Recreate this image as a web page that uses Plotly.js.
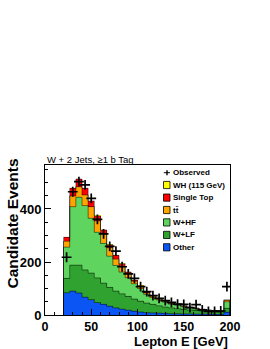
<!DOCTYPE html>
<html><head><meta charset="utf-8">
<script src="https://cdn.plot.ly/plotly-3.0.1.min.js"></script>
<style>html,body{margin:0;padding:0;background:#fff}#chart{width:270px;height:349px}</style>
</head><body><div id="chart"></div>
<script>
// Binning: 27 bins of 20/3 GeV starting at 20 GeV (last bin is overflow)
const binStart = 20;
const binWidth = 20 / 3;

// Per-process contributions (events per bin), stacked bottom to top
const other     = [84, 90, 83, 67, 58, 47, 40, 33, 27, 22, 18, 14, 11, 9, 8, 7, 6, 5, 5, 4, 4, 3, 3, 3, 2, 2, 10];
const wlf       = [54, 98, 105, 103, 100, 93, 80, 71, 63, 58, 52, 46, 41, 36, 32, 28, 24, 22, 19, 17, 15, 14, 12, 10, 10, 9, 15];
const whf       = [118, 221, 256, 243, 207, 172, 150, 118, 97, 82, 71, 58, 48, 33, 26, 22, 19, 14, 13, 10, 8, 6, 4, 4, 3, 3, 25];
const ttbar     = [22, 40, 40, 40, 44, 43, 35, 32, 24, 20, 16, 9, 8, 6, 6, 5, 4, 3, 3, 3, 2, 2, 2, 1, 1, 1, 5];
const singleTop = [15, 29, 29, 25, 21, 19, 16, 12, 14, 12, 5, 4, 3, 2, 2, 1, 1, 1, 1, 1, 1, 1, 1, 1, 1, 0.5, 2];
const wh        = [1, 2, 2, 2, 2, 1.5, 1.5, 1, 1, 1, 1, 0.5, 0.5, 0.5, 0.5, 0.3, 0.3, 0.3, 0.2, 0.2, 0.2, 0.2, 0.1, 0.1, 0.1, 0.1, 0.5];
const observed  = [218, 465, 503, 491, 440, 361, 306, 259, 241, 182, 155, 138, 107, 88, 73, 63, 54, 48, 41, 40, 28, 39, 19, 14, 14, 15, 107];

const xTickVals = [0, 50, 100, 150, 200];
const yTickVals = [0, 200, 400];

const processNames  = ['Other', 'W+LF', 'W+HF', 't\u0074\u0304', 'Single Top', 'WH (115 GeV)'];
const processData   = [other, wlf, whf, ttbar, singleTop, wh];
const processColors = ['#0b55f5', '#2fa22f', '#5fd45f', '#ffa500', '#ff0000', '#ffff00'];

const FONT = 'Liberation Sans, Arial, Helvetica, sans-serif';

const nBins = observed.length;
const centers = observed.map((_, i) => binStart + (i + 0.5) * binWidth);
const edges = Array.from({length: nBins + 1}, (_, i) => binStart + i * binWidth);

const traces = [];
processData.forEach((vals, k) => {
  traces.push({
    type: 'bar', x: centers, y: vals, width: binWidth,
    marker: {color: processColors[k], line: {width: 0}},
    showlegend: false, hoverinfo: 'skip'
  });
});
let cum = new Array(nBins).fill(0);
processData.forEach((vals, k) => {
  cum = cum.map((c, i) => c + vals[i]);
  if (k === processData.length - 1) return;
  const xs = [edges[0], edges[0]];
  const ys = [0, cum[0]];
  for (let i = 1; i < nBins; i++) { xs.push(edges[i]); ys.push(cum[i]); }
  xs.push(edges[nBins]); ys.push(cum[nBins - 1]);
  xs.push(edges[nBins]); ys.push(0);
  traces.push({
    type: 'scatter', mode: 'lines', x: xs, y: ys,
    line: {shape: 'hv', color: 'rgba(0,0,0,0.6)', width: 0.8},
    showlegend: false, hoverinfo: 'skip'
  });
});
traces.push({
  type: 'scatter', mode: 'markers', x: centers, y: observed,
  marker: {symbol: 'cross-thin', size: 7, color: '#000', line: {color: '#000', width: 1.7}},
  showlegend: false
});

const plotL = 45, plotR = 230, plotT = 165, plotB = 315;
const px = v => (v - plotL) / (plotR - plotL);
const py = v => (plotB - v) / (plotB - plotT);
const legendRows = [172.7, 185, 197.6, 210, 222.4, 234.9, 247.3];
const legendEntries = [
  {label: 'Observed', color: null},
  {label: processNames[5], color: processColors[5]},
  {label: processNames[4], color: processColors[4]},
  {label: processNames[3], color: processColors[3]},
  {label: processNames[2], color: processColors[2]},
  {label: processNames[1], color: processColors[1]},
  {label: processNames[0], color: processColors[0]}
];
const shapes = [];
const annotations = [];
legendEntries.forEach((e, i) => {
  const yc = legendRows[i];
  if (e.color) {
    shapes.push({type: 'rect', xref: 'paper', yref: 'paper',
      x0: px(163.5), x1: px(170), y0: py(yc + 3.6), y1: py(yc - 3.6),
      fillcolor: e.color, line: {color: '#000', width: 0.8}});
  } else {
    shapes.push({type: 'line', xref: 'paper', yref: 'paper',
      x0: px(163.8), x1: px(170), y0: py(yc), y1: py(yc), line: {color: '#000', width: 1}});
    shapes.push({type: 'line', xref: 'paper', yref: 'paper',
      x0: px(167), x1: px(167), y0: py(yc - 2.5), y1: py(yc + 2.5), line: {color: '#000', width: 1.4}});
  }
  annotations.push({xref: 'paper', yref: 'paper', x: px(171), y: py(yc),
    xanchor: 'left', yanchor: 'middle', showarrow: false, text: '<b>' + e.label + '</b>',
    font: {family: FONT, size: 8, color: '#000'}});
});
annotations.push({xref: 'paper', yref: 'paper', x: 0, y: py(159), xanchor: 'left', yanchor: 'middle',
  showarrow: false, text: 'W + 2 Jets, \u22651 b Tag', font: {family: FONT, size: 9.5, color: '#000'}});
annotations.push({xref: 'paper', yref: 'paper', x: px(229.5), y: py(341), xanchor: 'right', yanchor: 'middle',
  showarrow: false, text: '<b>Lepton E [GeV]</b>', font: {family: FONT, size: 13, color: '#000'}});
annotations.push({xref: 'paper', yref: 'paper', x: px(11.5), y: py(224), xanchor: 'center', yanchor: 'middle',
  textangle: -90, showarrow: false, text: '<b>Candidate Events</b>', font: {family: FONT, size: 15.5, color: '#000'}});

const layout = {
  width: 270, height: 349,
  margin: {l: 45, r: 40, t: 165, b: 34, pad: 0},
  paper_bgcolor: '#fff', plot_bgcolor: '#fff',
  barmode: 'stack', bargap: 0,
  showlegend: false,
  font: {family: FONT, color: '#000'},
  xaxis: {
    range: [0, 200], tickvals: xTickVals, ticktext: xTickVals.map(v => '<b>' + v + '</b>'),
    ticks: 'inside', ticklen: 6, tickwidth: 1, tickcolor: '#000',
    minor: {dtick: 10, ticks: 'inside', ticklen: 3, tickcolor: '#000', showgrid: false},
    showline: true, linecolor: '#000', linewidth: 1, mirror: true,
    showgrid: false, zeroline: false,
    tickfont: {family: FONT, size: 12.5, color: '#000'}
  },
  yaxis: {
    range: [0, 566], tickvals: yTickVals, ticktext: yTickVals.map(v => '<b>' + v + '</b>'),
    ticks: 'inside', ticklen: 6, tickwidth: 1, tickcolor: '#000',
    minor: {dtick: 50, ticks: 'inside', ticklen: 3, tickcolor: '#000', showgrid: false},
    showline: true, linecolor: '#000', linewidth: 1, mirror: true,
    showgrid: false, zeroline: false,
    tickfont: {family: FONT, size: 13, color: '#000'}
  },
  shapes: shapes,
  annotations: annotations
};

Plotly.newPlot('chart', traces, layout, {staticPlot: true, displayModeBar: false});
</script>
</body></html>
